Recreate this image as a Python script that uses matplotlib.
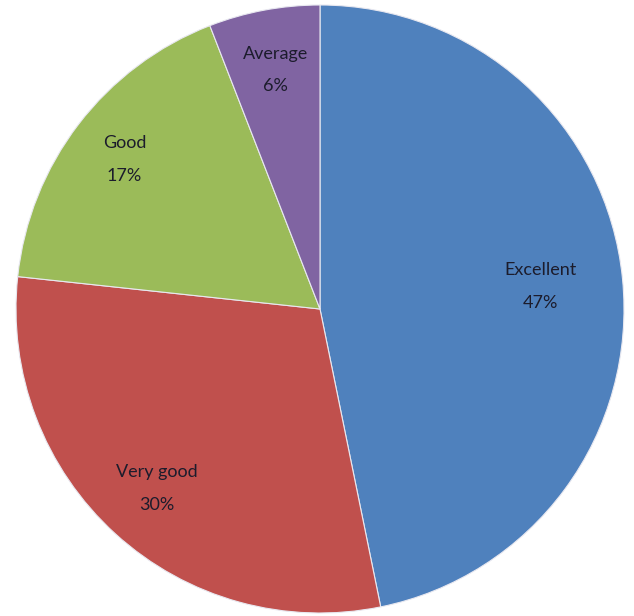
import matplotlib
matplotlib.use('Agg')
import matplotlib.pyplot as plt
import numpy as np

labels = ['Excellent', 'Very good', 'Good', 'Average']
values = [46.8, 29.9, 17.4, 5.9]
colors = ['#4F81BD', '#C0504D', '#9BBB59', '#8064A2']
# radial position of each label (fraction of radius)
label_r = [0.73, 0.80, 0.81, 0.80]

plt.rc('font', family=['Lato', 'DejaVu Sans'])

W, H = 634, 616
fig = plt.figure(figsize=(W / 100, H / 100), dpi=100)
cx, cy, R = 320, 309, 304
ax = fig.add_axes([(cx - R) / W, (H - cy - R) / H, 2 * R / W, 2 * R / H])

wedges, _ = ax.pie(values, colors=colors, startangle=90, counterclock=False,
                   wedgeprops=dict(edgecolor='#e8e8f0', linewidth=0.8))
ax.set_xlim(-1, 1)
ax.set_ylim(-1, 1)
ax.set_aspect('equal')

for w, lab, v, r in zip(wedges, labels, values, label_r):
    ang = np.deg2rad((w.theta1 + w.theta2) / 2)
    ax.text(r * np.cos(ang), r * np.sin(ang), '%s\n%d%%' % (lab, round(v)),
            ha='center', va='center', fontsize=13, color='#1c1c2c',
            linespacing=2.3)

fig.savefig('out.png', dpi=100)
